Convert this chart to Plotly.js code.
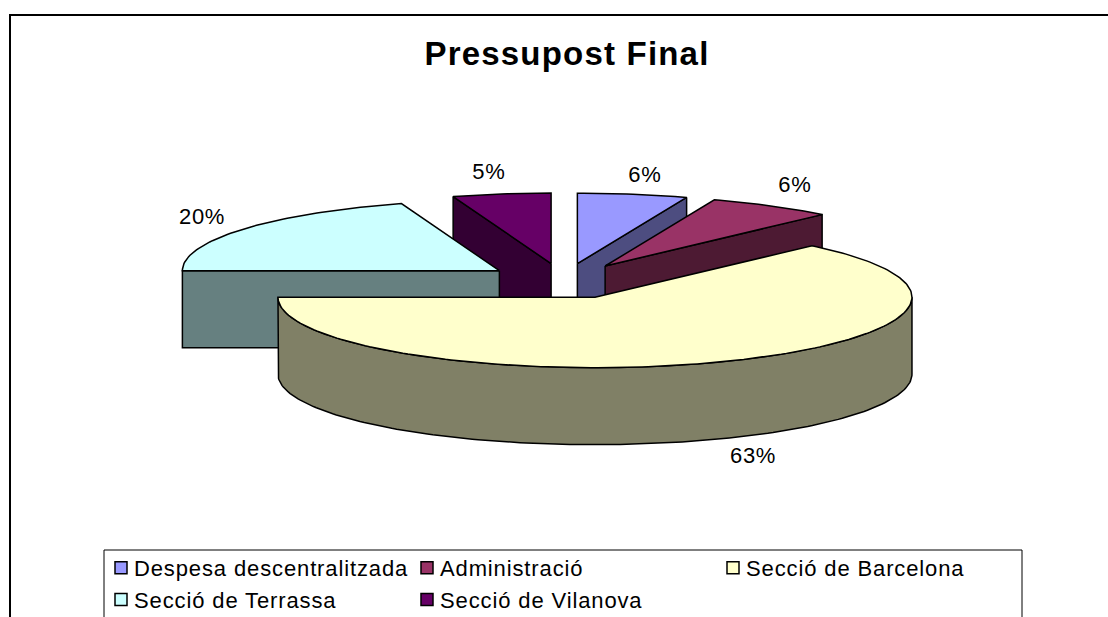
<!DOCTYPE html>
<html>
<head>
<meta charset="utf-8">
<script src="https://cdn.plot.ly/plotly-3.0.1.min.js"></script>
<style>
html,body{margin:0;padding:0;background:#fff;overflow:hidden}
#chart .legendtext{letter-spacing:.875px}
#chart .gtitle{letter-spacing:1.2px}
#chart .annotation-text{letter-spacing:.7px}
</style>
</head>
<body>
<div id="chart" style="width:1108px;height:660px"></div>
<script>
// data
const categories = ["Despesa descentralitzada", "Administració", "Secció de Barcelona", "Secció de Terrassa", "Secció de Vilanova"];
const values = [5.6, 6.4, 63, 20, 5];
const displayPercent = [6, 6, 63, 20, 5];
const topColors = ["#9999FF", "#993366", "#FFFFCC", "#CCFFFF", "#660066"];
const sideColors = ["#4D4D80", "#4D1A33", "#808066", "#668080", "#330033"];

// projection of the 3D pie onto the page-sized axes
const W = 1108, H = 660;
const cx = 563.5, cy = 281, rx = 317, ry = 70.5, depth = 77, explode = 0.25;
const labelOffsets = [[12, -20], [23, -22], [32, 17], [-41, -13], [-13, -22]];
const fontFamily = "Liberation Sans, Arial, sans-serif";

const total = values.reduce((a, b) => a + b, 0);
const rad = p => p / total * 2 * Math.PI;
let acc = 0;
const slices = values.map((v, i) => {
  const a0 = rad(acc); acc += v; const a1 = rad(acc);
  const mid = (a0 + a1) / 2;
  return {
    i, a0, a1, mid,
    ax: cx + explode * rx * Math.sin(mid),
    ay: cy - explode * ry * Math.cos(mid)
  };
});
const rimX = (s, a) => s.ax + rx * Math.sin(a);
const rimY = (s, a) => s.ay - ry * Math.cos(a);
const arc = (s, a0, a1) => {
  const n = Math.max(2, Math.ceil((a1 - a0) / 0.02));
  const xs = [], ys = [];
  for (let k = 0; k <= n; k++) {
    const a = a0 + (a1 - a0) * k / n;
    xs.push(rimX(s, a)); ys.push(rimY(s, a));
  }
  return [xs, ys];
};
const poly = (xs, ys, color, name) => ({
  type: "scatter", mode: "lines", x: xs, y: ys, fill: "toself", fillcolor: color,
  line: {color: "#000", width: 1.5, shape: "linear"}, showlegend: false, name, hoverinfo: "name"
});

const data = [];
// back to front
[...slices].sort((p, q) => Math.cos(q.mid) - Math.cos(p.mid)).forEach(s => {
  const side = sideColors[s.i], name = categories[s.i];
  const cut = a => {
    const x = rimX(s, a), y = rimY(s, a);
    data.push(poly([s.ax, x, x, s.ax, s.ax], [s.ay, y, y + depth, s.ay + depth, s.ay], side, name));
  };
  if (Math.sin(s.a0) < -1e-6) cut(s.a0);
  if (Math.sin(s.a1) > 1e-6) cut(s.a1);
  const w0 = Math.max(s.a0, Math.PI / 2), w1 = Math.min(s.a1, 3 * Math.PI / 2);
  if (w1 > w0) {
    const [xs, ys] = arc(s, w0, w1);
    data.push(poly(xs.concat(xs.slice().reverse(), xs[0]),
      ys.concat(ys.slice().reverse().map(y => y + depth), ys[0]), side, name));
  }
  const [xs, ys] = arc(s, s.a0, s.a1);
  data.push(poly([s.ax, ...xs, s.ax], [s.ay, ...ys, s.ay], topColors[s.i], name));
});

// legend entries
categories.forEach((c, i) => data.push({
  type: "scatter", mode: "markers", x: [null], y: [null], name: c,
  marker: {symbol: "square", size: 12, color: topColors[i], line: {color: "#000", width: 1.5}},
  hoverinfo: "skip"
}));

const annotations = slices.map((s, i) => ({
  x: rimX(s, s.mid) + labelOffsets[i][0],
  y: rimY(s, s.mid) + labelOffsets[i][1] + (Math.cos(s.mid) < 0 ? depth : 0),
  xref: "x", yref: "y", showarrow: false,
  text: displayPercent[i] + "%",
  font: {family: fontFamily, size: 22, color: "#000"}
}));

const layout = {
  width: W, height: H,
  margin: {l: 0, r: 0, t: 0, b: 0},
  paper_bgcolor: "#fff", plot_bgcolor: "#fff",
  title: {text: "<b>Pressupost Final</b>", x: 567 / W, xanchor: "center", y: 1 - 53 / H, yanchor: "middle",
    font: {family: fontFamily, size: 33, color: "#000"}},
  xaxis: {range: [0, W], visible: false, fixedrange: true},
  yaxis: {range: [H, 0], visible: false, fixedrange: true},
  showlegend: true,
  legend: {orientation: "h", x: 94 / W, xanchor: "left", y: 1 - 547 / H, yanchor: "top",
    entrywidth: 261, entrywidthmode: "pixels",
    bgcolor: "rgba(0,0,0,0)", borderwidth: 0, traceorder: "normal",
    font: {family: fontFamily, size: 22, color: "#000"}},
  shapes: [
    {type: "rect", xref: "x", yref: "y", x0: 10, x1: 1300, y0: 15, y1: 700, line: {color: "#000", width: 2}, layer: "below"},
    {type: "rect", xref: "x", yref: "y", x0: 104, x1: 1022, y0: 550, y1: 700, line: {color: "#000", width: 1}, layer: "below"}
  ],
  annotations
};

Plotly.newPlot("chart", data, layout, {displayModeBar: false, responsive: false}).then(gd => {
  document.querySelectorAll("#chart .legend .legendsymbols").forEach(n => n.setAttribute("transform", "translate(7,0)"));
});
</script>
</body>
</html>
